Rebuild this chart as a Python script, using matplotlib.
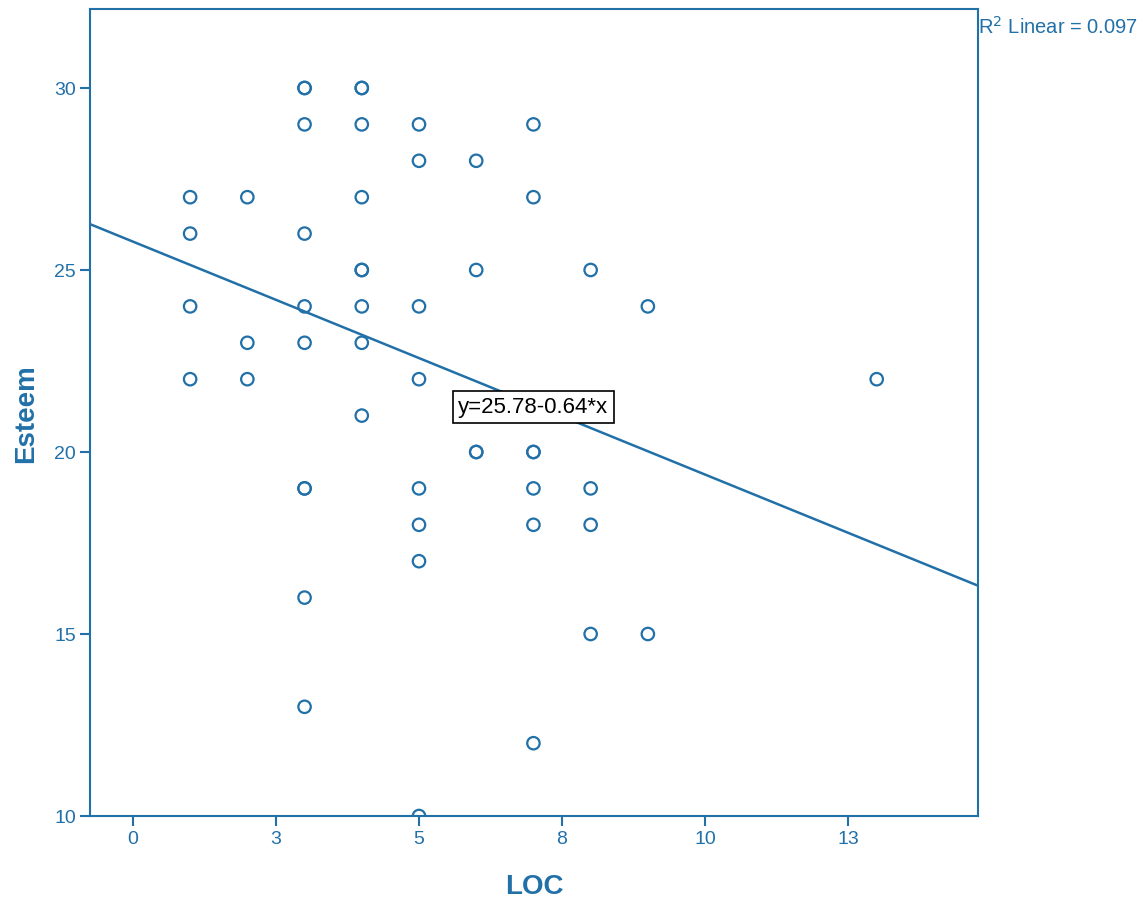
import numpy as np
import matplotlib
matplotlib.use("Agg")
import matplotlib.pyplot as plt

plt.rcParams['font.family'] = ['Liberation Sans', 'DejaVu Sans']

# LOC / Esteem observations (duplicates kept)
loc = [1, 1, 1, 1,
       2, 2, 2,
       3, 3, 3, 3, 3, 3, 3, 3, 3, 3,
       4, 4, 4, 4, 4, 4, 4, 4, 4,
       5, 5, 5, 5, 5, 5, 5, 5,
       6, 6, 6, 6,
       7, 7, 7, 7, 7, 7, 7,
       8, 8, 8, 8,
       9, 9,
       13]
esteem = [27, 26, 24, 22,
          27, 23, 22,
          30, 30, 29, 26, 24, 23, 19, 19, 16, 13,
          30, 30, 29, 27, 25, 25, 24, 23, 21,
          29, 28, 24, 22, 19, 18, 17, 10,
          28, 25, 20, 20,
          29, 27, 20, 20, 19, 18, 12,
          25, 19, 18, 15,
          24, 15,
          22]

intercept = 25.78
slope = -0.64
r2 = 0.097

xticks = [0, 2.5, 5, 7.5, 10, 12.5]
xticklabels = ['0', '3', '5', '8', '10', '13']
yticks = [10, 15, 20, 25, 30]

blue = '#2170a8'

fig = plt.figure(figsize=(11.41, 9.03), dpi=100)
ax = fig.add_axes([90 / 1141, 1 - 817 / 903, (978 - 90) / 1141, (817 - 10) / 903])

xmin, xmax = -0.75, 14.77
ymin, ymax = 10, 32.17

ax.scatter(loc, esteem, s=80, facecolors='none', edgecolors=blue, linewidths=1.6, zorder=3)

xs = np.array([xmin, xmax])
ax.plot(xs, intercept + slope * xs, color=blue, lw=1.8, zorder=2)

ax.text(7.0, 21.24, f'y={intercept:.2f}{slope:.2f}*x', ha='center', va='center', fontsize=16,
        color='black', bbox=dict(boxstyle='square,pad=0.25', fc='white', ec='black', lw=1.2), zorder=4)

ax.set_xlim(xmin, xmax)
ax.set_ylim(ymin, ymax)
ax.set_xticks(xticks)
ax.set_xticklabels(xticklabels)
ax.set_yticks(yticks)

for sp in ax.spines.values():
    sp.set_color(blue)
    sp.set_linewidth(1.5)
ax.tick_params(colors=blue, labelcolor=blue, labelsize=14, width=1.5, length=7, direction='out', pad=3)

ax.set_xlabel('LOC', fontsize=20, fontweight='bold', color=blue, labelpad=19)
ax.set_ylabel('Esteem', fontsize=20, fontweight='bold', color=blue, labelpad=11)

fig.text(978 / 1141, 1 - 27 / 903, f'R$^2$ Linear = {r2:.3f}', fontsize=14.5, color=blue,
         ha='left', va='center')

fig.savefig('out.png', dpi=100)
